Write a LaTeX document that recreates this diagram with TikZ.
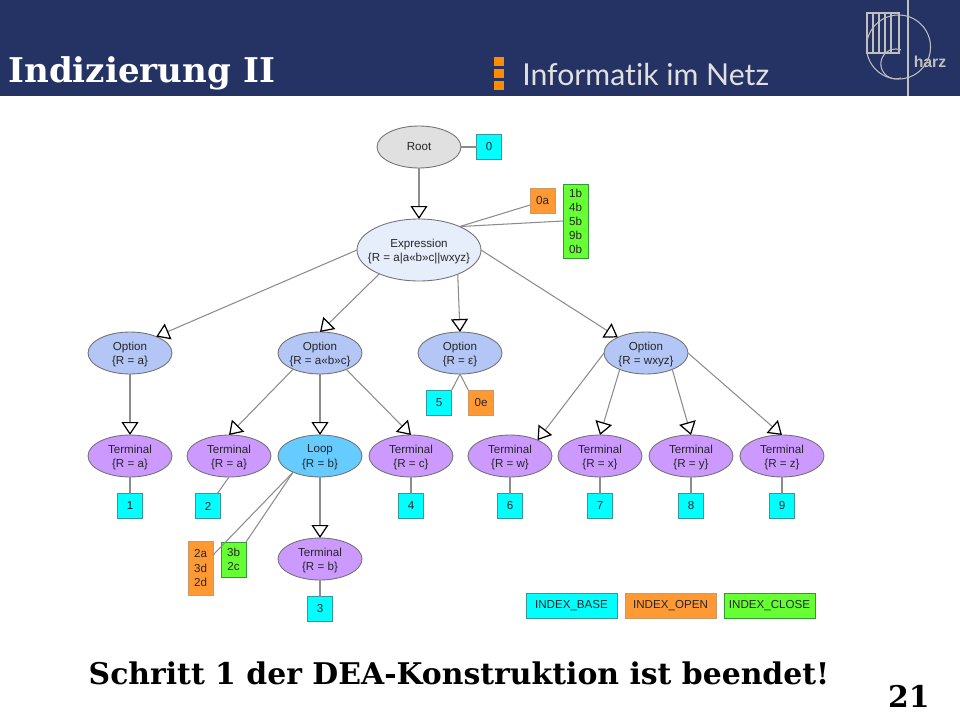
\documentclass[tikz,border=0pt]{standalone}
\usepackage{fontspec}
\setmainfont{Liberation Sans}
\newfontfamily\slidefont{DejaVu Serif}
\newfontfamily\brandfont[Ligatures=NoCommon]{Lato}
\usetikzlibrary{arrows.meta,shapes.geometric}

\definecolor{slideblue}{RGB}{36,50,100}
\definecolor{baseblue}{RGB}{0,255,255}
\definecolor{openorange}{RGB}{255,153,51}
\definecolor{closegreen}{RGB}{102,255,51}
\definecolor{exprblue}{RGB}{230,238,252}
\definecolor{optionblue}{RGB}{179,198,245}
\definecolor{termviolet}{RGB}{204,153,255}
\definecolor{loopblue}{RGB}{102,204,255}

\tikzset{
	treenode/.style={ellipse,draw=black!55,line width=.5pt,inner sep=-25pt,outer sep=0pt,
		minimum width=1.68cm,minimum height=.84cm,align=center,text=black!85,text depth=0pt,
		font=\fontsize{6.6}{8}\selectfont},
	rootnode/.style={treenode,fill=black!12},
	exprnode/.style={treenode,fill=exprblue,minimum width=2.48cm,minimum height=1.24cm},
	optnode/.style={treenode,fill=optionblue},
	termnode/.style={treenode,fill=termviolet},
	loopnode/.style={treenode,fill=loopblue},
	idxbox/.style={rectangle,line width=.5pt,inner sep=0pt,outer sep=0pt,minimum width=.5cm,minimum height=.5cm,
		align=center,text=black!85,font=\fontsize{6.6}{8}\selectfont},
	basebox/.style={idxbox,fill=baseblue,draw=teal!80},
	openbox/.style={idxbox,fill=openorange,draw=brown!80},
	closebox/.style={idxbox,fill=closegreen,draw=green!50!black!80},
	plainline/.style={draw=black!45,line width=.6pt},
	treeline/.style={plainline,-{Triangle[fill=white,color=black,length=2.6mm,width=3.4mm,line width=.7pt]}},
}

\begin{document}
\begin{tikzpicture}[x=0.02cm,y=-0.02cm]
	\useasboundingbox (0,0) rectangle (960,720);
	% slide head
	\fill[slideblue] (0,0) rectangle (960,96);
	\node[anchor=west,text=white,inner sep=0pt] (headline) at (8,73) {\slidefont\bfseries\fontsize{19.4}{24}\selectfont Indizierung II};
	\foreach \y in {57,69,81}{
		\fill[orange!90!yellow] (494,\y) rectangle (504,\y+9);
	}
	\node[anchor=west,text=black!12,inner sep=0pt] (brand) at (522,74) {\brandfont\fontsize{17.2}{20}\selectfont Informatik im Netz};
	% logo
	\begin{scope}[draw=black!25,line width=.6pt]
		\draw (908,0) -- (908,96);
		\draw (898.5,47) circle (32);
		\draw (867,13) rectangle (899,53);
		\foreach \x in {873,879,885,891}{
			\draw (\x,13) -- (\x,53);
		}
		\draw (901,78) arc (70:290:15);
	\end{scope}
	\node[text=black!25,inner sep=0pt] (harz) at (930,62) {\bfseries\fontsize{9}{10}\selectfont harz};
	% tree
	\node[rootnode] (root) at (419,147) {Root};
	\node[exprnode] (expr) at (419,250) {Expression\\\{R = a|a«b»c||wxyz\}};
	\foreach \nm/\x/\txt in {optA/130/a,optB/320/a«b»c,optC/460/ε,optD/646/wxyz}{
		\node[optnode] (\nm) at (\x,353) {Option\\\{R = \txt\}};
	}
	\foreach \nm/\x/\txt in {termA/130/a,termB/229/a,termC/411/c,termW/510/w,termX/600/x,termY/691/y,termZ/782/z}{
		\node[termnode] (\nm) at (\x,456) {Terminal\\\{R = \txt\}};
	}
	\node[loopnode] (loop) at (320,456) {Loop\\\{R = b\}};
	\node[termnode] (termL) at (320,559) {Terminal\\\{R = b\}};
	% index boxes
	\foreach \nm/\x/\y/\txt in {bxroot/489/147/0,bxone/130/506/1,bxtwo/208/506/2,bxthree/320/609/3,bxfour/411/506/4,bxfive/439/403/5,bxsix/510/506/6,bxseven/600/506/7,bxeight/691/506/8,bxnine/782/506/9}{
		\node[basebox] (\nm) at (\x,\y) {\txt};
	}
	\node[openbox] (opexpr) at (542.5,200.5) {0a};
	\node[openbox] (opeps) at (481,403) {0e};
	\node[openbox,minimum height=1.08cm] (oploop) at (200.5,568) {2a\\3d\\2d};
	\node[closebox,minimum height=1.48cm] (clexpr) at (575.5,221) {1b\\4b\\5b\\9b\\0b};
	\node[closebox,minimum height=.7cm] (clloop) at (233.5,559.5) {3b\\2c};
	% legend
	\node[basebox,minimum width=1.82cm] (legbase) at (571.5,605.5) {INDEX\_BASE};
	\node[openbox,minimum width=1.82cm] (legopen) at (670.5,605.5) {INDEX\_OPEN};
	\node[closebox,minimum width=1.82cm] (legclose) at (769.5,605.5) {INDEX\_CLOSE};
	% connectors
	\draw[treeline] (root.south) -- (expr.north);
	\draw[plainline] (root.east) -- (bxroot.west);
	\draw[plainline] (expr.30) -- (opexpr.200);
	\draw[plainline] (expr.30) -- (clexpr.west);
	\draw[treeline] (expr.west) -- (optA.32);
	\draw[treeline] (expr.211) -- (optB.north);
	\draw[treeline] (expr.328) -- (optC.north);
	\draw[treeline] (expr.east) -- (optD.151);
	\draw[treeline] (optA.south) -- (termA.north);
	\draw[treeline] (optB.211) -- (termB.north);
	\draw[treeline] (optB.south) -- (loop.north);
	\draw[treeline] (optB.328) -- (termC.north);
	\draw[plainline] (optC.south) -- (bxfive.north east);
	\draw[plainline] (optC.south) -- (opeps.north west);
	\draw[treeline] (optD.west) -- (termW.30);
	\draw[treeline] (optD.212) -- (termX.north);
	\draw[treeline] (optD.328) -- (termY.north);
	\draw[treeline] (optD.east) -- (termZ.north);
	\draw[treeline] (loop.south) -- (termL.north);
	\draw[plainline] (loop.211) -- (oploop.46);
	\draw[plainline] (loop.211) -- (clloop.north east);
	\draw[plainline] (termA.south) -- (bxone.north);
	\draw[plainline] (termB.south) -- (bxtwo.53);
	\draw[plainline] (termC.south) -- (bxfour.north);
	\draw[plainline] (termW.south) -- (bxsix.north);
	\draw[plainline] (termX.south) -- (bxseven.north);
	\draw[plainline] (termY.south) -- (bxeight.north);
	\draw[plainline] (termZ.south) -- (bxnine.north);
	\draw[plainline] (termL.south) -- (bxthree.north);
	% slide foot
	\node[inner sep=0pt] (status) at (459,673) {\slidefont\bfseries\fontsize{17}{20}\selectfont Schritt 1 der DEA-Konstruktion ist beendet!};
	\node[anchor=east,inner sep=0pt] (pageno) at (930,696) {\slidefont\bfseries\fontsize{17}{20}\selectfont 21};
\end{tikzpicture}
\end{document}
